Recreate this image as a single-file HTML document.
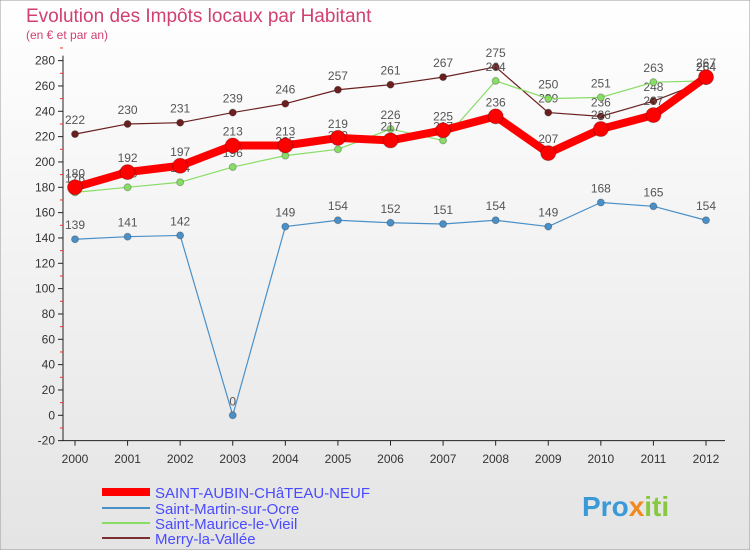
<!DOCTYPE html>
<html><head><meta charset="utf-8"><style>
body{margin:0;background:#fff;font-family:"Liberation Sans",sans-serif}
svg text{font-family:"Liberation Sans",sans-serif}
</style></head><body>
<svg id="c" width="750" height="550" viewBox="0 0 750 550">
<defs><linearGradient id="bg" x1="0" y1="0" x2="0" y2="1"><stop offset="0" stop-color="#ffffff"/><stop offset="1" stop-color="#e4e4e4"/></linearGradient></defs>
<rect x="0" y="0" width="750" height="550" fill="url(#bg)" stroke="#999"/>
<text x="26" y="22" font-size="19" fill="#d04070">Evolution des Impôts locaux par Habitant</text>
<text x="26" y="39" font-size="12" fill="#d04070">(en € et par an)</text>
<g id="axes"></g><g id="series"></g>
<g>
<line x1="102" y1="492" x2="150" y2="492" stroke="#f00" stroke-width="8"/>
<text x="155" y="498" font-size="15" fill="#4a4aff">SAINT-AUBIN-CHâTEAU-NEUF</text>
<line x1="102" y1="508" x2="150" y2="508" stroke="#4a90c8" stroke-width="2"/>
<text x="155" y="514" font-size="15" fill="#4a4aff">Saint-Martin-sur-Ocre</text>
<line x1="102" y1="523" x2="150" y2="523" stroke="#88dd66" stroke-width="2"/>
<text x="155" y="529" font-size="15" fill="#4a4aff">Saint-Maurice-le-Vieil</text>
<line x1="102" y1="538" x2="150" y2="538" stroke="#7a3030" stroke-width="2"/>
<text x="155" y="544" font-size="15" fill="#4a4aff">Merry-la-Vallée</text>
</g>
<text x="582" y="516" font-size="28" font-weight="bold" fill="#3a9ad8">Pro<tspan fill="#f08a20">x</tspan><tspan fill="#88c840">iti</tspan></text>
</svg>
<script>
const years=[2000,2001,2002,2003,2004,2005,2006,2007,2008,2009,2010,2011,2012];
const yTicks=[-20,0,20,40,60,80,100,120,140,160,180,200,220,240,260,280];
const redVals=[180,192,197,213,213,219,217,225,236,207,226,237,267];
const blueVals=[139,141,142,0,149,154,152,151,154,149,168,165,154];
const greenVals=[176,180,184,196,205,210,226,217,264,250,251,263,264];
const brownVals=[222,230,231,239,246,257,261,267,275,239,236,248,264];
const NS='http://www.w3.org/2000/svg';
function X(i){return 75+i*(706-75)/12;}
function Y(v){return 415.3-v*(380/300);}
function mk(t,a,p){const e=document.createElementNS(NS,t);for(const k in a)e.setAttribute(k,a[k]);p.appendChild(e);return e;}
const ax=document.getElementById('axes');
const yl=mk('line',{x1:63,y1:Y(280)-5,x2:63,y2:Y(-20),stroke:'#222'},ax);


const xl=mk('line',{x1:63,y1:Y(-20),x2:725,y2:Y(-20),stroke:'#222'},ax);


yTicks.forEach(v=>{
 mk('line',{x1:58,y1:Y(v),x2:63,y2:Y(v),stroke:'#222'},ax);
 mk('line',{x1:60,y1:Y(v+10),x2:63,y2:Y(v+10),stroke:'#e33'},ax);
 const t=mk('text',{x:55,y:Y(v)+4,'text-anchor':'end','font-size':12,fill:'#333'},ax);
 t.textContent=v;
 
 
});
years.forEach((y,i)=>{
 mk('line',{x1:X(i),y1:Y(-20),x2:X(i),y2:Y(-20)+5,stroke:'#222'},ax);
 const t=mk('text',{x:X(i),y:463,'text-anchor':'middle','font-size':12,fill:'#333'},ax);
 t.textContent=y;
 
 
});
const sg=document.getElementById('series');
function draw(vals,color,w,r,name){
 const g=mk('g',{},sg);
 
 
 const pl=mk('polyline',{points:vals.map((v,i)=>X(i)+','+Y(v)).join(' '),fill:'none',stroke:color,'stroke-width':w,'stroke-linejoin':'round'},g);
 
 
 vals.forEach((v,i)=>{
  const c=mk('circle',{cx:X(i),cy:Y(v),r:r,fill:color,stroke:'rgba(0,0,0,0.25)'},g);
  
  
  const t=mk('text',{x:X(i),y:Y(v)-10,'text-anchor':'middle','font-size':12,fill:'#555'},g);
  t.textContent=v;
  
  
 });
}
draw(brownVals,'#6b2020',1.2,3.5,'series-merry');
draw(greenVals,'#88dd66',1.2,3.5,'series-saint-maurice');
draw(blueVals,'#4a90c8',1.2,3.5,'series-saint-martin');
draw(redVals,'#ff0000',8,7.5,'series-saint-aubin');
</script>
</body></html>
